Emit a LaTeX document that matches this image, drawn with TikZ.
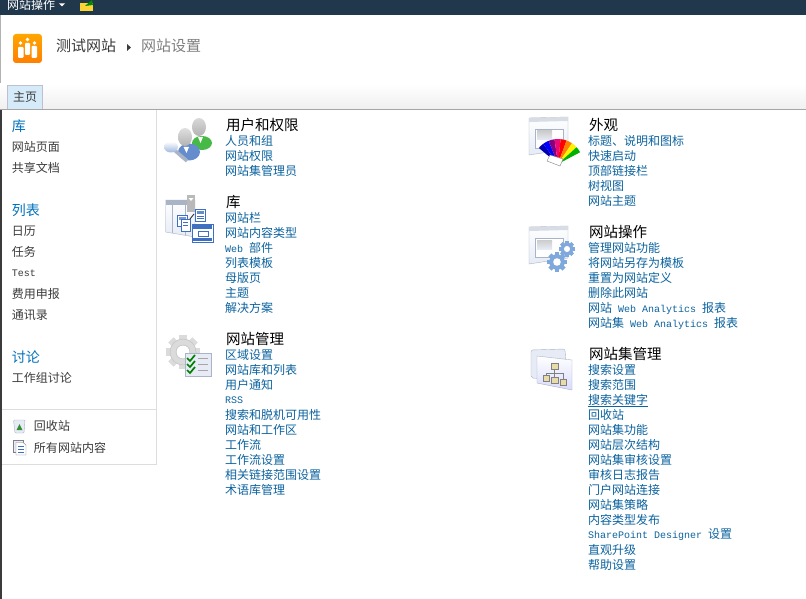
\documentclass[tikz,border=0pt]{standalone}
\usepackage{fontspec}
\setmainfont{Noto Sans CJK SC}
\newfontfamily\latinmono{Liberation Mono}
\usepackage{tikz}

\definecolor{linkblue}{HTML}{0B639F}
\definecolor{navblue}{HTML}{0072BC}
\definecolor{navgray}{HTML}{3B3B3B}
\definecolor{rulegray}{HTML}{DBDDDE}
\definecolor{barnavy}{HTML}{21374C}
\definecolor{tabblue}{HTML}{D5EBFA}
\definecolor{iconedge}{HTML}{A9B4C6}
\definecolor{iconpale}{HTML}{E6EBF5}
\definecolor{iconblue}{HTML}{3F6FC0}
\definecolor{gearblue}{HTML}{7FA8DC}
\definecolor{treetan}{HTML}{E9DBA8}

\newcommand{\mono}[1]{{\latinmono\fontsize{10}{10}\selectfont #1}}
\newcommand{\windowicon}[2]{%
	\draw[draw=iconedge,top color=white,bottom color=iconpale] (#1,#2) -- ++(39,-1) -- ++(0,32) -- ++(-39,6) -- cycle;
	\fill[iconedge!45] (#1,#2) -- ++(39,-1) -- ++(0,4) -- ++(-39,1) -- cycle;
	\draw[draw=iconedge,fill=white] (#1+6,#2+11) rectangle ++(28,19);
	\shade[top color=gray!40,bottom color=iconpale] (#1+8,#2+13) rectangle ++(15,9);}
\newcommand{\gearicon}[4]{%
	\foreach \ang in {0,45,...,315}{
		\draw[#4,line width=#3*0.45pt] (#1,#2) -- ++(\ang:#3);
	}
	\fill[#4] (#1,#2) circle (#3*0.78);
	\fill[white] (#1,#2) circle (#3*0.38);}

\tikzset{
	txt/.style={anchor=west,inner sep=0pt,outer sep=0pt},
	link/.style={txt,text=linkblue,font=\fontsize{12}{12}\selectfont},
	heading/.style={txt,text=black,font=\fontsize{14.5}{14.5}\selectfont},
	navhead/.style={txt,text=navblue,font=\fontsize{14}{14}\selectfont},
	navitem/.style={txt,text=navgray,font=\fontsize{12}{12}\selectfont},
}

\begin{document}
\begin{tikzpicture}[x=1pt,y=-1pt]
	\useasboundingbox (0,0) rectangle (806,599);
	\fill[white] (0,0) rectangle (806,599);

	% top bar
	\fill[barnavy] (0,0) rectangle (806,15);
	\node[txt,text=white,font=\fontsize{12}{12}\selectfont] (siteactions) at (7,5) {网站操作};
	\fill[white] (59,3.5) -- (65,3.5) -- (62,6.5) -- cycle;
	\fill[yellow!65!orange!80] (80,3) rectangle (93,11);
	\fill[green!55!black] (85,6) -- (92,0) -- (93,5) -- cycle;
	\fill[gray!60] (0,15) rectangle (1,110);

	% title
	\shade[top color=orange!70!yellow,bottom color=orange,rounded corners=3pt] (13,34) rectangle (42,63);
	\fill[white,rounded corners=1pt] (18,47) rectangle (23.5,58);
	\fill[white,rounded corners=1pt] (25,43) rectangle (30,55);
	\fill[white,rounded corners=1pt] (31.5,46) rectangle (37,58);
	\fill[white] (20.5,43) circle (1.8);
	\fill[white] (27.5,39.5) circle (1.8);
	\fill[white] (34.5,43) circle (1.8);
	\node[txt,text=navgray,font=\fontsize{15}{15}\selectfont] (sitename) at (56,46) {测试网站};
	\fill[navgray] (127,44) -- (131,47.5) -- (127,51) -- cycle;
	\node[txt,text=gray,font=\fontsize{15}{15}\selectfont] (pagename) at (141,46) {网站设置};

	% tab strip
	\draw[rulegray] (0,83) -- (806,83);
	\shade[top color=white,bottom color=gray!12] (0,84) rectangle (806,109);
	\draw[draw=blue!12!gray!45,fill=tabblue] (7.5,85) rectangle (42.5,109);
	\node[txt,text=navgray,font=\fontsize{12}{12}\selectfont] (hometab) at (13,96.5) {主页};
	\draw[gray!70] (0,109.5) -- (806,109.5);

	% quick launch
	\fill[navgray] (0,110) rectangle (1.5,599);
	\draw[rulegray] (156.5,110) -- (156.5,464.5) -- (1.5,464.5);
	\draw[rulegray] (1.5,409.5) -- (156.5,409.5);

	\node[navhead] (navlib) at (12,126) {库};
	\node[navitem] (navpages) at (12,147) {网站页面};
	\node[navitem] (navdocs) at (12,168) {共享文档};
	\node[navhead] (navlists) at (12,210) {列表};
	\node[navitem] (navcal) at (12,231) {日历};
	\node[navitem] (navtask) at (12,252) {任务};
	\node[navitem] (navtest) at (12,273) {\mono{Test}};
	\node[navitem] (navfee) at (12,294) {费用申报};
	\node[navitem] (navcontact) at (12,315) {通讯录};
	\node[navhead] (navdisc) at (12,357) {讨论};
	\node[navitem] (navteam) at (12,378) {工作组讨论};
	\node[navitem] (navbin) at (34,426) {回收站};
	\node[navitem] (navall) at (34,448) {所有网站内容};

	% recycle bin and content icons
	\draw[draw=iconedge,fill=iconpale,rounded corners=1pt] (13.5,420) -- (25,420) -- (24,433) -- (15,433) -- cycle;
	\fill[green!45!black!80] (19.5,424) -- (22.5,430) -- (16.5,430) -- cycle;
	\draw[draw=gray,fill=iconpale] (13.5,440.5) rectangle (23,452);
	\draw[draw=gray,fill=white] (16,442.5) -- (23,442.5) -- (26,445) -- (26,455) -- (16,455) -- cycle;
	\draw[iconblue] (18,446) -- (24,446) (18,449) -- (24,449) (18,452) -- (24,452);

	% users icon
	\fill[green!45!gray] (202,143) ellipse (10 and 7);
	\shade[top color=gray!30,bottom color=gray!60] (199,127) ellipse (7 and 9);
	\fill[white] (198,137) -- (203,137) -- (200.5,143) -- cycle;
	\fill[iconblue!80] (189,152) ellipse (11 and 8.5);
	\shade[top color=gray!25,bottom color=gray!60] (185,137) ellipse (7 and 9);
	\fill[white] (183.5,147) -- (189,147) -- (186.5,153) -- cycle;
	\draw[iconedge,line width=3.5pt] (172,148) -- (187,161);
	\shade[top color=white,bottom color=iconblue!50] (171,147) ellipse (7 and 5.5);

	% library icon
	\draw[draw=iconedge,top color=white,bottom color=iconpale] (165.5,200) -- (195,200) -- (195,237) -- (165.5,232) -- cycle;
	\fill[iconedge] (165.5,200) rectangle (190,205);
	\draw[iconedge] (172,205) -- (172,233) (185,205) -- (185,235);
	\fill[gray!55] (187,195) rectangle (195,212);
	\fill[white] (188.5,198) -- (193.5,198) -- (191,201) -- cycle;
	\draw[draw=iconblue,fill=white] (177,215) rectangle (187,226);
	\fill[iconblue!70] (178.5,217) rectangle (185.5,219.5);
	\draw[draw=iconblue,fill=white] (181,219) rectangle (190,231);
	\draw[iconblue] (183,222) -- (188,222) (183,225) -- (188,225);
	\draw[navgray,line width=1pt] (190,219) -- (194,214);
	\draw[draw=iconblue,fill=white] (195,209.5) rectangle (205.5,221);
	\fill[iconblue!80] (196.5,211) rectangle (204,213.5);
	\draw[iconblue] (197,216) -- (204,216) (197,218.5) -- (204,218.5);
	\draw[draw=iconblue,fill=white] (192,224) rectangle (213,242);
	\fill[iconblue] (193,225) rectangle (212,229);
	\fill[iconblue] (193,237.5) rectangle (212,241);
	\draw[iconblue] (198,231) rectangle (208,236);

	% site admin icon
	\gearicon{183}{352}{17}{gray!28}
	\draw[gray!50] (183,352) circle (7);
	\draw[gray!50] (183,352) circle (13);
	\draw[draw=iconedge,fill=iconpale,line width=1pt] (185,353) rectangle (211,376);
	\draw[green!50!black,line width=1.7pt] (187,358) -- (190,361) -- (195,355) (187,364) -- (190,367) -- (195,361) (187,370) -- (190,373) -- (195,367);
	\draw[gray!70] (198,358.5) -- (208,358.5) (198,364.5) -- (208,364.5) (198,370.5) -- (208,370.5);

	% look and feel icon
	\windowicon{529}{118}
	\foreach \ang/\col in {-140/blue!70!black,-126/blue,-112/violet,-98/magenta!80!red,-84/red,-70/orange,-56/yellow,-42/green!70!black}{
		\fill[\col] (558,164) -- ++(\ang:25) arc[start angle=\ang,end angle=\ang+14,radius=25] -- cycle;
	}
	\draw[draw=gray,fill=white] (550,155) -- (563,159) -- (560,166) -- (547,161) -- cycle;

	% site actions icon
	\windowicon{529}{227}
	\gearicon{567}{249}{8}{gearblue}
	\gearicon{557}{262}{10}{gearblue}

	% site collection icon
	\draw[draw=iconedge,fill=iconpale,rounded corners=2pt] (531,350) -- (565,349) -- (567,380) -- (531,378) -- cycle;
	\draw[draw=iconedge,top color=white,bottom color=iconpale!70!blue!40] (537,356) -- (572,360) -- (572,390) -- (537,383) -- cycle;
	\draw[gray] (554.5,368) -- (554.5,378) (546,376) -- (546,373) -- (563,373) -- (563,379);
	\draw[draw=gray,fill=treetan] (551,363) rectangle (558,369);
	\draw[draw=gray,fill=treetan] (543,375) rectangle (549,381);
	\draw[draw=gray,fill=treetan] (551.5,377) rectangle (558,383);
	\draw[draw=gray,fill=treetan] (560,379) rectangle (566,385);

	% users and permissions
	\node[heading] (users) at (226,125) {用户和权限};
	\node[link] (users1) at (225,141) {人员和组};
	\node[link] (users2) at (225,156) {网站权限};
	\node[link] (users3) at (225,171) {网站集管理员};

	% galleries
	\node[heading] (lib) at (226,202) {库};
	\node[link] (lib1) at (225,218) {网站栏};
	\node[link] (lib2) at (225,233) {网站内容类型};
	\node[link] (lib3) at (225,248) {\mono{Web }部件};
	\node[link] (lib4) at (225,263) {列表模板};
	\node[link] (lib5) at (225,278) {母版页};
	\node[link] (lib6) at (225,293) {主题};
	\node[link] (lib7) at (225,308) {解决方案};

	% site administration
	\node[heading] (admin) at (226,339) {网站管理};
	\node[link] (admin1) at (225,355) {区域设置};
	\node[link] (admin2) at (225,370) {网站库和列表};
	\node[link] (admin3) at (225,385) {用户通知};
	\node[link] (admin4) at (225,400) {\mono{RSS}};
	\node[link] (admin5) at (225,415) {搜索和脱机可用性};
	\node[link] (admin6) at (225,430) {网站和工作区};
	\node[link] (admin7) at (225,445) {工作流};
	\node[link] (admin8) at (225,460) {工作流设置};
	\node[link] (admin9) at (225,475) {相关链接范围设置};
	\node[link] (admin10) at (225,490) {术语库管理};

	% look and feel
	\node[heading] (look) at (589,125) {外观};
	\node[link] (look1) at (588,141) {标题、说明和图标};
	\node[link] (look2) at (588,156) {快速启动};
	\node[link] (look3) at (588,171) {顶部链接栏};
	\node[link] (look4) at (588,186) {树视图};
	\node[link] (look5) at (588,201) {网站主题};

	% site actions
	\node[heading] (act) at (589,232) {网站操作};
	\node[link] (act1) at (588,248) {管理网站功能};
	\node[link] (act2) at (588,263) {将网站另存为模板};
	\node[link] (act3) at (588,278) {重置为网站定义};
	\node[link] (act4) at (588,293) {删除此网站};
	\node[link] (act5) at (588,308) {网站\mono{ Web Analytics }报表};
	\node[link] (act6) at (588,323) {网站集\mono{ Web Analytics }报表};

	% site collection administration
	\node[heading] (coll) at (589,354) {网站集管理};
	\node[link] (coll1) at (588,370) {搜索设置};
	\node[link] (coll2) at (588,385) {搜索范围};
	\node[link] (coll3) at (588,400) {搜索关键字};
	\draw[linkblue] (coll3.west |- 0,406.5) -- (coll3.east |- 0,406.5);
	\node[link] (coll4) at (588,415) {回收站};
	\node[link] (coll5) at (588,430) {网站集功能};
	\node[link] (coll6) at (588,445) {网站层次结构};
	\node[link] (coll7) at (588,460) {网站集审核设置};
	\node[link] (coll8) at (588,475) {审核日志报告};
	\node[link] (coll9) at (588,490) {门户网站连接};
	\node[link] (coll10) at (588,505) {网站集策略};
	\node[link] (coll11) at (588,520) {内容类型发布};
	\node[link] (coll12) at (588,535) {\mono{SharePoint Designer }设置};
	\node[link] (coll13) at (588,550) {直观升级};
	\node[link] (coll14) at (588,565) {帮助设置};
\end{tikzpicture}
\end{document}
